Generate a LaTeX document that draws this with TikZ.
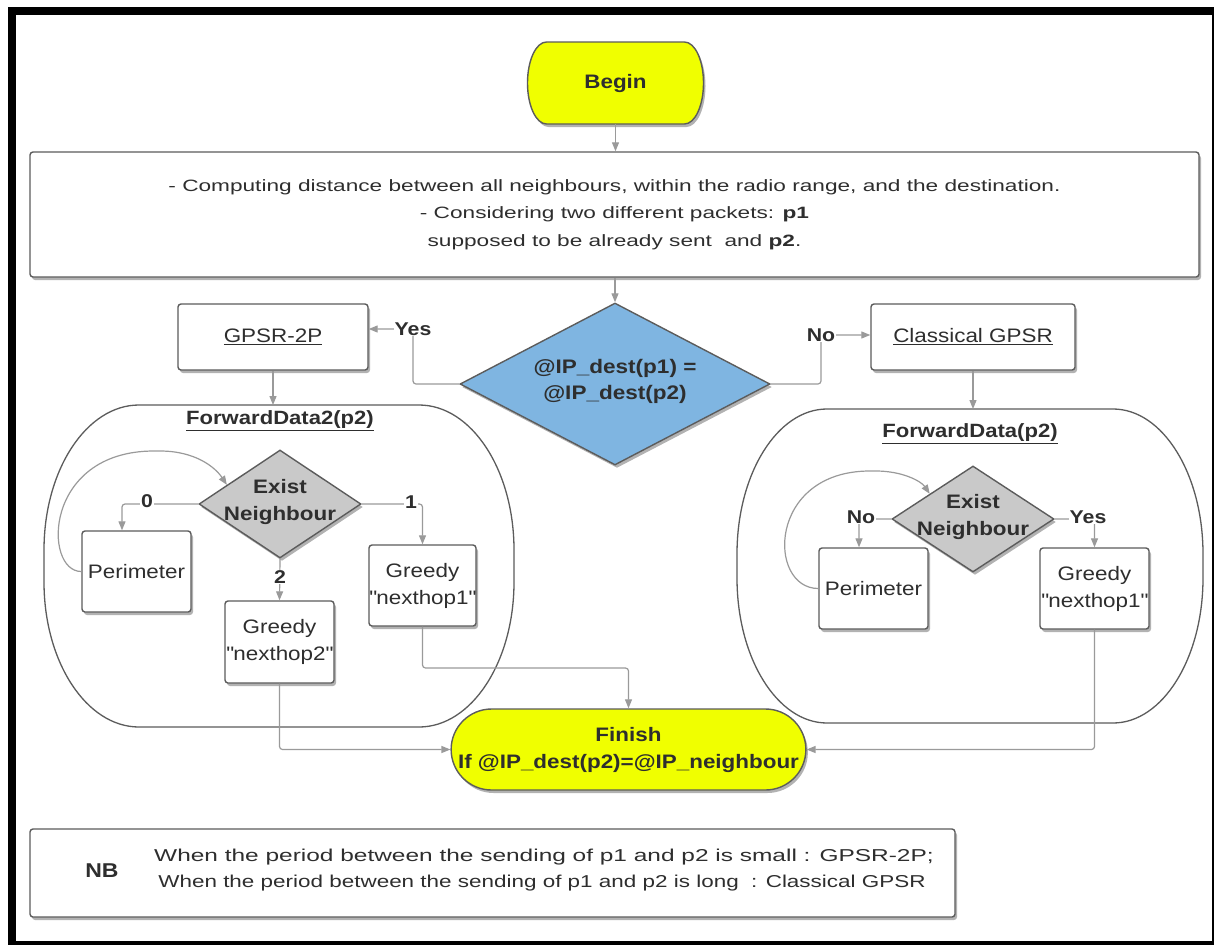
\documentclass[tikz,border=0pt]{standalone}
\usepackage{graphicx}
\usepackage{fontspec}
\setmainfont{Liberation Sans}[FakeStretch=1.15]
\newfontfamily\widefont{Liberation Sans}[FakeStretch=1.38]
\usetikzlibrary{shapes.geometric,shapes.misc,arrows.meta,shadows,calc}

\definecolor{termyellow}{HTML}{F0FF00}
\definecolor{qblue}{HTML}{7FB5E1}
\definecolor{qgray}{HTML}{C9C9C9}
\definecolor{edgegray}{HTML}{9A9A9A}
\definecolor{linegray}{HTML}{5C5C5C}
\definecolor{txt}{HTML}{2E2E2E}

\tikzset{
  conn/.style={draw=edgegray, line width=1.2pt, rounded corners=3pt,
    -{Triangle[length=9pt,width=7pt]}},
  softshadow/.style={drop shadow={shadow xshift=2pt, shadow yshift=-3pt,
    opacity=0.3, fill=black}},
  box/.style={draw=linegray, line width=1.4pt, fill=white, rounded corners=3pt,
    inner sep=0pt, align=center, text=txt, softshadow},
  terminal/.style={rounded rectangle, draw=linegray, line width=1.4pt,
    fill=termyellow, inner sep=0pt, align=center, text=txt, softshadow},
  decision/.style={diamond, draw=linegray, line width=1.4pt, inner sep=0pt,
    softshadow},
  container/.style={draw=linegray, line width=1.3pt},
  lbl/.style={fill=white, inner sep=1pt, text=txt,
    font=\bfseries\fontsize{18.5}{20}\selectfont},
  regfont/.style={font=\fontsize{19.5}{27}\selectfont},
  boldfont/.style={font=\bfseries\fontsize{19.5}{27}\selectfont},
  caption/.style={text=txt, align=center, inner sep=0pt},
}
\newcommand{\qt}{\textquotedbl}

\begin{document}
\begin{tikzpicture}[x=1pt,y=-1pt]
\useasboundingbox (0,0) rectangle (1215,945);

% outer frame
\fill[black] (8,7) rectangle (1214,945);
\fill[white] (16,15) rectangle (1212,941);

% start terminal: flat top and bottom, elliptic sides
\path[draw=linegray, line width=1.4pt, fill=termyellow, softshadow]
  (546.5,42) -- (684.5,42)
  arc[start angle=-90, end angle=90, x radius=19, y radius=41] -- (546.5,124)
  arc[start angle=90, end angle=270, x radius=19, y radius=41] -- cycle;
\node[caption, minimum width=177pt, minimum height=82pt, boldfont] (begin)
  at (615.5,83) {Begin};

\node[box, minimum width=1169pt, minimum height=125pt,
  font=\widefont\fontsize{16.4}{27.5}\selectfont] (mainbox) at (614.5,214.5)
  {- Computing distance between all neighbours, within the radio range, and the destination.\\
   - Considering two different packets: \textbf{p1}\\
   supposed to be already sent\ \ and \textbf{p2}.};

% main decision
\node[decision, fill=qblue, minimum width=310pt, minimum height=162pt]
  (bigq) at (615,384) {};
\node[caption, font=\bfseries\fontsize{19.6}{26}\selectfont] (bigqtext)
  at (615,381) {@IP\_dest(p1) =\\@IP\_dest(p2)};

\node[box, minimum width=190pt, minimum height=66pt, regfont] (gpsr2p)
  at (273,337) {\underline{GPSR-2P}};
\node[box, minimum width=204pt, minimum height=66pt, regfont] (classical)
  at (973,337) {\underline{Classical GPSR}};

% containers
\draw[container] (139,405) -- (419,405)
  arc[start angle=-90, end angle=0, x radius=95, y radius=145] -- (514,582)
  arc[start angle=0, end angle=90, x radius=95, y radius=145] -- (139,727)
  arc[start angle=90, end angle=180, x radius=95, y radius=145] -- (44,550)
  arc[start angle=180, end angle=270, x radius=95, y radius=145] -- cycle;
\coordinate (lctop) at (273,405);

\draw[container] (827,409) -- (1113,409)
  arc[start angle=-90, end angle=0, x radius=90, y radius=145] -- (1203,578)
  arc[start angle=0, end angle=90, x radius=90, y radius=145] -- (827,723)
  arc[start angle=90, end angle=180, x radius=90, y radius=145] -- (737,554)
  arc[start angle=180, end angle=270, x radius=90, y radius=145] -- cycle;
\coordinate (rctop) at (973,409);

\node[text=txt, font=\bfseries\fontsize{19.2}{22}\selectfont] (lctitle)
  at (280,421) {\underline{ForwardData2(p2)}};
\node[text=txt, font=\bfseries\fontsize{19.2}{22}\selectfont] (rctitle)
  at (970,434) {\underline{ForwardData(p2)}};

% left procedure
\node[decision, fill=qgray, minimum width=162pt, minimum height=108pt]
  (ld) at (280,504) {};
\node[caption, boldfont] (ldtext) at (280,502) {Exist\\Neighbour};
\node[box, minimum width=109pt, minimum height=81pt, regfont] (lper)
  at (136.5,571.5) {Perimeter};
\node[box, minimum width=109pt, minimum height=82pt, regfont] (lg2)
  at (279.5,642) {Greedy\\\qt nexthop2\qt};
\node[box, minimum width=107pt, minimum height=81pt, regfont] (lg1)
  at (422.5,585.5) {Greedy\\\qt nexthop1\qt};

% right procedure
\node[decision, fill=qgray, minimum width=162pt, minimum height=106pt]
  (rd) at (973,519) {};
\node[caption, boldfont] (rdtext) at (973,517) {Exist\\Neighbour};
\node[box, minimum width=109pt, minimum height=81pt, regfont] (rper)
  at (873.5,588.5) {Perimeter};
\node[box, minimum width=109pt, minimum height=81pt, regfont] (rg)
  at (1094.5,588.5) {Greedy\\\qt nexthop1\qt};

% end
\node[terminal, rounded rectangle arc length=180, minimum width=353pt,
  minimum height=81pt, boldfont] (finish) at (628.5,749.5)
  {Finish\\If @IP\_dest(p2)=@IP\_neighbour};

% note
\node[box, minimum width=925pt, minimum height=88pt, softshadow/.style={}]
  (nb) at (492.5,873) {};
\node[text=txt, font=\bfseries\fontsize{20}{24}\selectfont] (nblabel)
  at (102,871) {NB};
\node[caption, font=\widefont\fontsize{17.2}{26}\selectfont] (nbline1)
  at (544,857)
  {\scalebox{1.03}[1]{When the period between the sending of p1 and p2 is small : GPSR-2P;}};
\node[caption, font=\widefont\fontsize{17.2}{26}\selectfont] (nbline2)
  at (542,883)
  {\scalebox{0.946}[1]{When the period between the sending of p1 and p2 is long\ \ : Classical GPSR}};

% connectors, top part
\draw[conn] (begin.south) -- (begin.south |- mainbox.north);
\draw[conn] (mainbox.south -| bigq.north) -- (bigq.north);

\coordinate (yesc) at (413,329);
\draw[conn] (bigq.west) -| (yesc) -- (yesc -| gpsr2p.east);
\node[lbl] (yes) at (yesc) {Yes};

\coordinate (noc) at (821,335);
\draw[conn] (bigq.east) -| (noc) -- (noc -| classical.west);
\node[lbl] (no) at (noc) {No};

\draw[conn] (gpsr2p.south) -- (lctop);
\draw[conn] (classical.south) -- (rctop);

% connectors, left procedure
\coordinate (l0) at (122,504);
\draw[conn] (ld.west) -- (l0) -- (l0 |- lper.north);
\node[lbl] (lab0) at (147,501) {0};

\draw[conn] (ld.east) -| (lg1.north);
\node[lbl] (lab1) at (411,502) {1};

\draw[conn] (ld.south) -- (lg2.north);
\node[lbl] (lab2) at (280,577) {2};

\draw[conn] (lper.west) .. controls (43,571.5) and (43,451) .. (157,451)
  .. controls (195,451) and (215,467) .. ($(ld.west)!0.35!(ld.north)$);

% connectors, right procedure
\coordinate (rnoc) at (859,519);
\draw[conn] (rd.west) -- (rnoc) -- (rnoc |- rper.north);
\node[lbl] (rno) at (861,517) {No};

\draw[conn] (rd.east) -| (rg.north);
\node[lbl] (ryes) at (1088,517) {Yes};

\draw[conn] (rper.west) .. controls (767,588.5) and (767,471) .. (873,471)
  .. controls (902,471) and (921,481) .. ($(rd.west)!0.47!(rd.north)$);

% connectors into the end node
\draw[conn] (lg2.south) |- (finish.west);
\coordinate (lmid) at (422.5,668);
\draw[conn] (lg1.south) -- (lmid) -| (finish.north);
\draw[conn] (rg.south) |- (finish.east);

\end{tikzpicture}
\end{document}
